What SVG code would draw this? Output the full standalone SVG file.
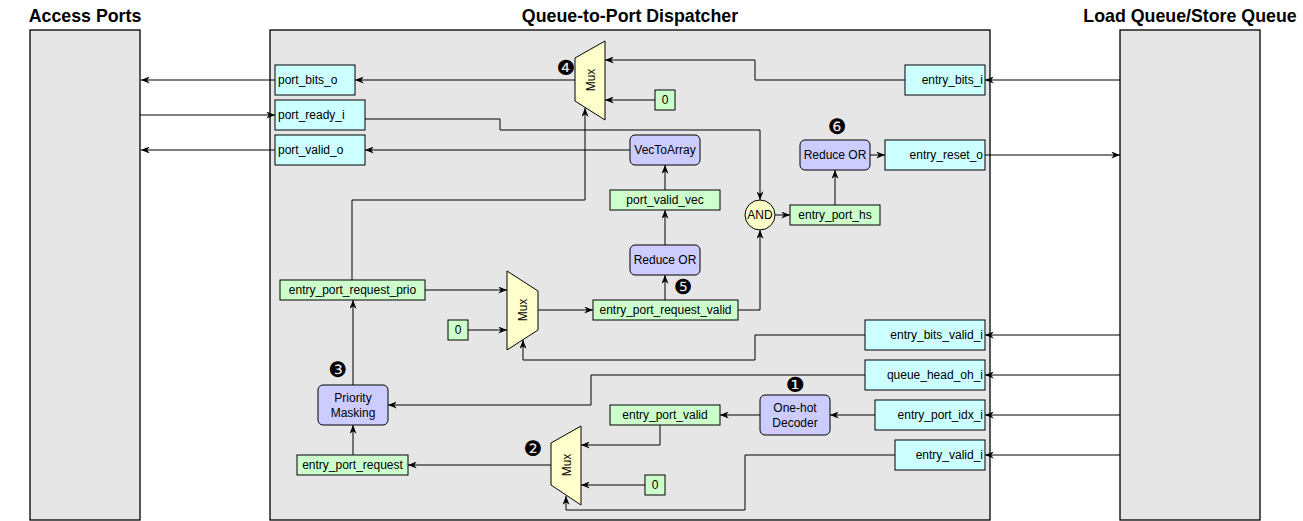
<svg xmlns="http://www.w3.org/2000/svg" width="1303" height="521" viewBox="0 0 1303 521">
<style>
  .col{fill:#E6E6E6;stroke:#000;stroke-width:1.3}
  .cy{fill:#CCFFFF;stroke:#000;stroke-width:1}
  .gr{fill:#CCFFCC;stroke:#000;stroke-width:1}
  .pu{fill:#CCCCFF;stroke:#000;stroke-width:1}
  .ye{fill:#FFFFCC;stroke:#000;stroke-width:1}
  .t{font-family:"Liberation Sans",Arial,sans-serif;font-size:12px;fill:#000;dominant-baseline:central}
  .c{text-anchor:middle}
  .r{text-anchor:end}
  .title{font-family:"Liberation Sans",Arial,sans-serif;font-size:17.8px;font-weight:bold;text-anchor:middle;fill:#000}
  .badge{font-family:"DejaVu Sans",sans-serif;font-size:21px;text-anchor:middle;dominant-baseline:central;fill:#000}
  .w{fill:none;stroke:#000;stroke-width:1;marker-end:url(#arr)}
</style>
<defs>
  <marker id="arr" viewBox="0 0 10 8" refX="10" refY="4" markerWidth="9" markerHeight="7" markerUnits="userSpaceOnUse" orient="auto">
    <path d="M0,0 L10,4 L0,8 L3,4 z" fill="#000"/>
  </marker>
</defs>
<rect width="1303" height="521" fill="#fff"/>

<g id="access-ports">
  <text class="title" x="85" y="22">Access Ports</text>
  <rect class="col" x="30" y="30" width="110" height="490"/>
</g>
<g id="dispatcher">
  <text class="title" x="630" y="22">Queue-to-Port Dispatcher</text>
  <rect class="col" x="270" y="30" width="720" height="490"/>
</g>
<g id="lsq">
  <text class="title" x="1190" y="22">Load Queue/Store Queue</text>
  <rect class="col" x="1120" y="30" width="140" height="490"/>
</g>

<g id="connectors">
  <path class="w" d="M275,80 H141"/>
  <path class="w" d="M140,115 H275"/>
  <path class="w" d="M275,150 H141"/>
  <path class="w" d="M575,80 H355"/>
  <path class="w" d="M905,80 H755 V60 H605"/>
  <path class="w" d="M655,100 H605"/>
  <path class="w" d="M352,280 V200 H585 V108"/>
  <path class="w" d="M365,119 H500 V130 H760 V200"/>
  <path class="w" d="M630,150 H365"/>
  <path class="w" d="M665,190 V165"/>
  <path class="w" d="M665,245 V210"/>
  <path class="w" d="M665,300 V275"/>
  <path class="w" d="M738,310 H760 V230"/>
  <path class="w" d="M775,215 H790"/>
  <path class="w" d="M835,205 V170"/>
  <path class="w" d="M870,155 H885"/>
  <path class="w" d="M985,155 H1120"/>
  <path class="w" d="M1120,80 H985"/>
  <path class="w" d="M425,290 H507"/>
  <path class="w" d="M468,330 H507"/>
  <path class="w" d="M538,310 H593"/>
  <path class="w" d="M865,335 H755 V360 H523 V340"/>
  <path class="w" d="M1120,335 H985"/>
  <path class="w" d="M1120,375 H985"/>
  <path class="w" d="M865,375 H591 V405 H388"/>
  <path class="w" d="M1120,415 H985"/>
  <path class="w" d="M875,415 H830"/>
  <path class="w" d="M760,415 H720"/>
  <path class="w" d="M660,425 V445 H581"/>
  <path class="w" d="M645,485 H581"/>
  <path class="w" d="M1120,455 H985"/>
  <path class="w" d="M895,455 H745 V510 H566 V496"/>
  <path class="w" d="M551,465 H408"/>
  <path class="w" d="M353,455 V425"/>
  <path class="w" d="M353,385 V300"/>
</g>

<g id="port_bits_o"><rect class="cy" x="275" y="65" width="80" height="30"/><text class="t" x="278" y="80">port_bits_o</text></g>
<g id="port_ready_i"><rect class="cy" x="275" y="100" width="90" height="30"/><text class="t" x="278" y="115">port_ready_i</text></g>
<g id="port_valid_o"><rect class="cy" x="275" y="135" width="90" height="30"/><text class="t" x="278" y="150">port_valid_o</text></g>

<g id="mux4">
  <polygon class="ye" points="575,58 605,41 605,120 575,101"/>
  <text class="t c" x="0" y="0" font-size="11" transform="translate(591,80) rotate(-90)">Mux</text>
  <text class="badge" x="566" y="68">❹</text>
</g>
<g id="zero4"><rect class="gr" x="655" y="90" width="20" height="20"/><text class="t c" x="665" y="100">0</text></g>

<g id="entry_bits_i"><rect class="cy" x="905" y="65" width="80" height="30"/><text class="t r" x="983" y="80">entry_bits_i</text></g>
<g id="vectoarray"><rect class="pu" x="630" y="135" width="70" height="30" rx="5"/><text class="t c" x="665" y="150">VecToArray</text></g>
<g id="port_valid_vec"><rect class="gr" x="610" y="190" width="110" height="20"/><text class="t c" x="665" y="200">port_valid_vec</text></g>
<g id="reduce_or_5"><rect class="pu" x="630" y="245" width="70" height="30" rx="5"/><text class="t c" x="665" y="260">Reduce OR</text></g>
<g id="entry_port_request_valid"><rect class="gr" x="593" y="300" width="145" height="20"/><text class="t c" x="665.5" y="310">entry_port_request_valid</text><text class="badge" x="683" y="287">❺</text></g>

<g id="and"><circle class="ye" cx="760" cy="215" r="15"/><text class="t c" x="760" y="215">AND</text></g>
<g id="entry_port_hs"><rect class="gr" x="790" y="205" width="90" height="20"/><text class="t c" x="835" y="215">entry_port_hs</text></g>
<g id="reduce_or_6"><rect class="pu" x="800" y="140" width="70" height="30" rx="5"/><text class="t c" x="835" y="155">Reduce OR</text><text class="badge" x="837" y="127">❻</text></g>
<g id="entry_reset_o"><rect class="cy" x="885" y="140" width="100" height="30"/><text class="t r" x="983" y="155">entry_reset_o</text></g>

<g id="entry_port_request_prio"><rect class="gr" x="280" y="280" width="145" height="20"/><text class="t c" x="352.5" y="290">entry_port_request_prio</text></g>
<g id="zero5"><rect class="gr" x="448" y="320" width="20" height="20"/><text class="t c" x="458" y="330">0</text></g>
<g id="mux5">
  <polygon class="ye" points="507,271 538,291 538,330 507,350"/>
  <text class="t c" x="0" y="0" font-size="11" transform="translate(523,310) rotate(-90)">Mux</text>
</g>

<g id="entry_bits_valid_i"><rect class="cy" x="865" y="320" width="120" height="30"/><text class="t r" x="983" y="335">entry_bits_valid_i</text></g>
<g id="queue_head_oh_i"><rect class="cy" x="865" y="360" width="120" height="30"/><text class="t r" x="983" y="375">queue_head_oh_i</text></g>
<g id="entry_port_idx_i"><rect class="cy" x="875" y="400" width="110" height="30"/><text class="t r" x="983" y="415">entry_port_idx_i</text></g>
<g id="entry_valid_i"><rect class="cy" x="895" y="440" width="90" height="30"/><text class="t r" x="983" y="455">entry_valid_i</text></g>

<g id="onehot"><rect class="pu" x="760" y="395" width="70" height="40" rx="5"/><text class="t c" x="795" y="408">One-hot</text><text class="t c" x="795" y="423">Decoder</text><text class="badge" x="795" y="385">❶</text></g>
<g id="entry_port_valid"><rect class="gr" x="610" y="405" width="110" height="20"/><text class="t c" x="665" y="415">entry_port_valid</text></g>

<g id="priority_masking"><rect class="pu" x="318" y="385" width="70" height="40" rx="5"/><text class="t c" x="353" y="398">Priority</text><text class="t c" x="353" y="413">Masking</text><text class="badge" x="338" y="370">❸</text></g>

<g id="mux2">
  <polygon class="ye" points="551,443 581,426 581,505 551,485"/>
  <text class="t c" x="0" y="0" font-size="11" transform="translate(567,465) rotate(-90)">Mux</text>
  <text class="badge" x="533" y="449">❷</text>
</g>
<g id="zero2"><rect class="gr" x="645" y="475" width="20" height="20"/><text class="t c" x="655" y="485">0</text></g>
<g id="entry_port_request"><rect class="gr" x="297" y="455" width="111" height="20"/><text class="t c" x="352.5" y="465">entry_port_request</text></g>
</svg>
